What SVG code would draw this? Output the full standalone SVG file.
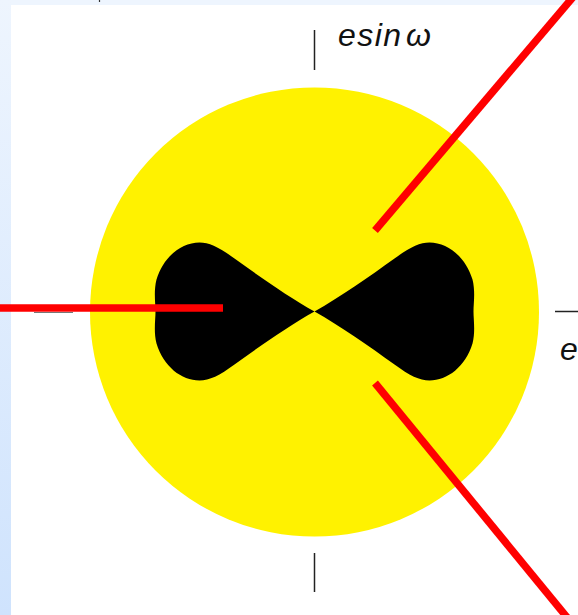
<svg xmlns="http://www.w3.org/2000/svg" width="578" height="615" viewBox="0 0 578 615">
  <defs>
    <linearGradient id="band" x1="0" y1="0" x2="0" y2="1">
      <stop offset="0" stop-color="#eef5fe"/>
      <stop offset="1" stop-color="#cfe3fd"/>
    </linearGradient>
    <path id="lobe" d="M0,0 C25,-14 55,-35 80,-53 C95,-64 105,-69 115,-69 C133,-69 151,-55 158,-32 C161,-20 159,-8 159,0 C159,8 161,20 158,32 C151,55 133,69 115,69 C105,69 95,64 80,53 C55,35 25,14 0,0 Z"/>
  </defs>
  <style>
    .axis { stroke: #222; stroke-width: 1.5; fill: none; }
    .ray { stroke: #ff0000; stroke-width: 7.5; fill: none; stroke-linecap: butt; }
    .lbl { font-family: "Liberation Sans", Arial, sans-serif; font-style: italic; font-size: 32px; fill: #111; }
  </style>
  <rect x="0" y="0" width="578" height="615" fill="#eef5fe"/>
  <rect x="0" y="0" width="11" height="615" fill="url(#band)"/>
  <rect x="11" y="5" width="567" height="610" fill="#ffffff"/>
  <line x1="99.5" y1="0" x2="99.5" y2="2" stroke="#333" stroke-width="1.2"/>

  <g id="disk">
    <circle cx="314.5" cy="312" r="224.5" fill="#fff200"/>
  </g>
  <g id="lobes" transform="translate(314.5,311.5)" fill="#000">
    <use href="#lobe"/>
    <use href="#lobe" transform="scale(-1,1)"/>
  </g>

  <g id="axes">
    <line class="axis" x1="314.5" y1="30" x2="314.5" y2="70"/>
    <line class="axis" x1="314.5" y1="553" x2="314.5" y2="592"/>
    <line class="axis" x1="555" y1="311.5" x2="578" y2="311.5"/>
    <line x1="34" y1="312.5" x2="73" y2="312.5" stroke="#777" stroke-width="1.2"/>
  </g>

  <g id="labels">
    <text class="lbl" x="338" y="46"><tspan textLength="63" lengthAdjust="spacing">esin</tspan><tspan x="406">ω</tspan></text>
    <text class="lbl" x="560" y="360" font-size="30">e</text>
  </g>

  <g id="connectors">
    <line class="ray" x1="375" y1="230.5" x2="580.5" y2="-11.7"/>
    <line class="ray" x1="375" y1="383" x2="570" y2="621"/>
    <line class="ray" x1="-2" y1="308" x2="223" y2="308"/>
  </g>
</svg>
